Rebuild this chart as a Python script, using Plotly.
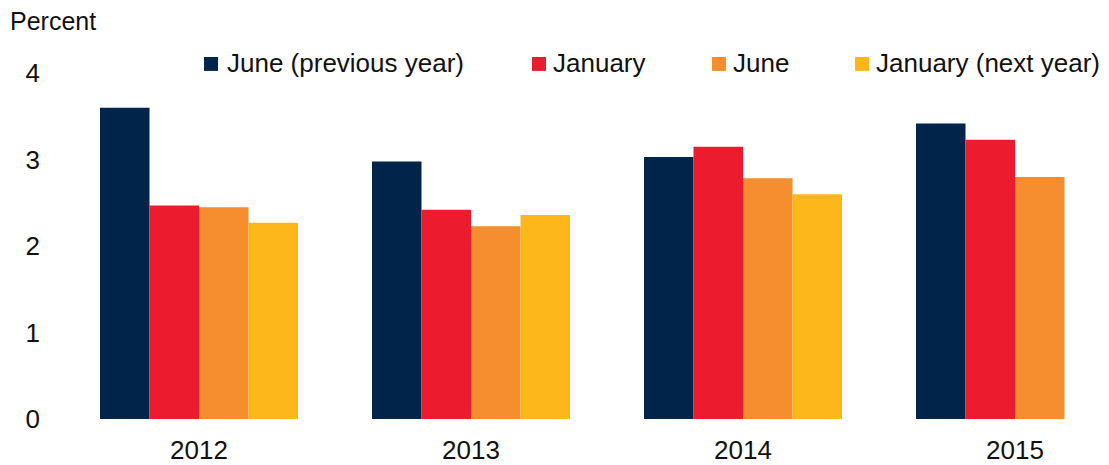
import plotly.graph_objects as go

years = ["2012", "2013", "2014", "2015"]
series_names = ["June (previous year)", "January", "June", "January (next year)"]
june_prev = [3.60, 2.98, 3.03, 3.42]
january = [2.47, 2.42, 3.15, 3.23]
june = [2.45, 2.23, 2.785, 2.80]
january_next = [2.27, 2.36, 2.60, None]
colors = ["#00244A", "#EC1C2E", "#F68D2E", "#FDB71A"]
y_ticks = [0, 1, 2, 3, 4]

FONT = "Liberation Sans, Arial, sans-serif"
W, H = 1109, 465
L, R, T, B = 63, 0, 56, 44
pw, ph = W - L - R, H - T - B

fig = go.Figure()
for name, vals, col in zip(series_names, [june_prev, january, june, january_next], colors):
    fig.add_trace(go.Bar(x=years, y=vals, name=name, marker=dict(color=col, line=dict(width=0)),
                         showlegend=False))

# custom legend (squares + labels) in pixel-derived paper coords
def px(x):
    return (x - L) / pw

def py(y):
    return (H - B - y) / ph

sq_x = [204, 532, 712, 855]
txt_x = [225, 551, 731, 874]
shapes = []
annotations = []
for sx, tx, name, col in zip(sq_x, txt_x, series_names, colors):
    shapes.append(dict(type="rect", xref="paper", yref="paper", x0=px(sx), x1=px(sx + 14),
                       y0=py(71), y1=py(57), fillcolor=col, line=dict(width=0)))
    annotations.append(dict(text=name, xref="paper", yref="paper", x=px(tx), y=py(63),
                            xanchor="left", yanchor="middle", showarrow=False,
                            font=dict(family=FONT, size=26, color="#111111")))

annotations.append(dict(text="Percent", xref="paper", yref="paper", x=px(8), y=py(21),
                        xanchor="left", yanchor="middle", showarrow=False,
                        font=dict(family=FONT, size=25, color="#111111")))

fig.update_layout(
    width=W, height=H,
    margin=dict(l=L, r=R, t=T, b=B, pad=0),
    paper_bgcolor="white", plot_bgcolor="white",
    barmode="group", bargap=0.272, bargroupgap=0,
    font=dict(family=FONT, size=26, color="#111111"),
    shapes=shapes, annotations=annotations,
    xaxis=dict(type="category", range=[-0.5, -0.5 + pw / 272.0], showline=False,
               showgrid=False, zeroline=False, ticks="", ticklabelstandoff=13,
               tickfont=dict(size=26)),
    yaxis=dict(range=[0, 4.2], tickvals=y_ticks, showline=False, showgrid=False,
               zeroline=False, ticks="", ticklabelstandoff=22, tickfont=dict(size=26)),
)

fig.write_html("out.html", config={"displayModeBar": False},
               post_script="document.body.style.margin='0';document.body.style.overflow='hidden';")
